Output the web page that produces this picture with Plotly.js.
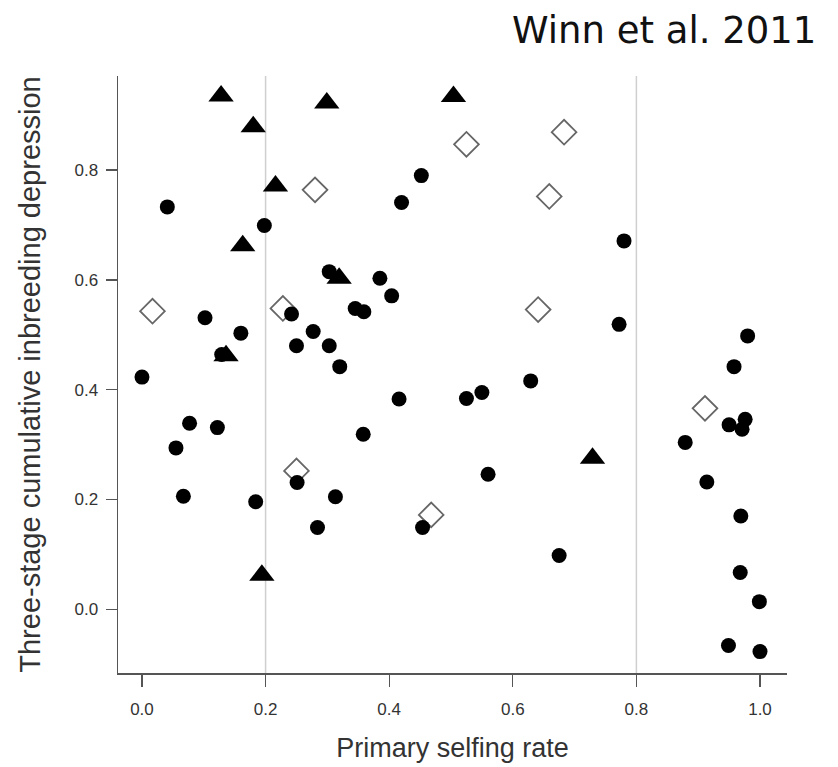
<!DOCTYPE html>
<html>
<head>
<meta charset="utf-8">
<script src="https://cdn.plot.ly/plotly-3.0.1.min.js"></script>
<style>html,body{margin:0;padding:0;background:#fff;}#chart{width:838px;height:767px;}</style>
</head>
<body>
<div id="chart"></div>
<script>
// Filled circles
const circleX = [0.041,0.198,0.452,0.420,0.780,0.303,0.385,0.404,0.345,0.359,0.102,0.160,0.129,0.000,0.077,0.122,0.055,0.067,0.184,0.242,0.277,0.250,0.303,0.320,0.251,0.313,0.284,0.416,0.525,0.550,0.629,0.358,0.560,0.454,0.772,0.980,0.958,0.950,0.976,0.971,0.879,0.914,0.969,0.675,0.968,0.999,0.949,1.000];
const circleY = [0.733,0.699,0.790,0.741,0.671,0.615,0.603,0.571,0.548,0.542,0.531,0.503,0.464,0.423,0.339,0.331,0.294,0.206,0.196,0.538,0.506,0.480,0.480,0.442,0.231,0.205,0.149,0.383,0.384,0.395,0.416,0.319,0.246,0.149,0.519,0.498,0.442,0.336,0.346,0.328,0.304,0.232,0.170,0.098,0.067,0.014,-0.066,-0.077];
// Filled triangles
const triangleX = [0.128,0.180,0.299,0.504,0.216,0.163,0.319,0.136,0.729,0.194];
const triangleY = [0.935,0.879,0.922,0.934,0.771,0.662,0.603,0.462,0.275,0.062];
// Open diamonds
const diamondX = [0.017,0.228,0.280,0.525,0.683,0.659,0.641,0.250,0.468,0.911];
const diamondY = [0.543,0.548,0.764,0.847,0.869,0.752,0.546,0.252,0.172,0.366];
// Reference lines and ticks
const refLines = [0.2, 0.8];
const xTicks = [0, 0.2, 0.4, 0.6, 0.8, 1.0];
const xTickText = ["0.0","0.2","0.4","0.6","0.8","1.0"];
const yTicks = [0, 0.2, 0.4, 0.6, 0.8];
const yTickText = ["0.0","0.2","0.4","0.6","0.8"];

const traces = [
  {x: diamondX, y: diamondY, type: 'scatter', mode: 'markers',
   marker: {symbol: 'diamond-open', size: 19, color: '#666', line: {color: '#666', width: 1.8}}},
  {x: circleX, y: circleY, type: 'scatter', mode: 'markers',
   marker: {symbol: 'circle', size: 15, color: '#000', line: {width: 0}}},
  {x: triangleX, y: triangleY, type: 'scatter', mode: 'markers',
   marker: {symbol: 'triangle-up', size: 22, color: '#000', line: {width: 0}}}
];

const fam = 'Liberation Sans, Arial, sans-serif';
const tickFont = {family: fam, size: 17, color: '#333'};
const layout = {
  width: 838, height: 767,
  margin: {l: 118, r: 51, t: 76, b: 94, pad: 0},
  paper_bgcolor: '#fff', plot_bgcolor: '#fff',
  showlegend: false,
  font: tickFont,
  xaxis: {
    range: [-0.0388, 1.0437], tickvals: xTicks, ticktext: xTickText,
    showgrid: false, zeroline: false, showline: true, linecolor: '#555', linewidth: 1.5,
    ticks: 'outside', ticklen: 12, tickwidth: 1.3, tickcolor: '#555', tickfont: tickFont,
    ticklabelstandoff: 8,
    title: {text: 'Primary selfing rate', font: {family: fam, size: 27, color: '#333'}, standoff: 20}
  },
  yaxis: {
    range: [-0.116, 0.9714], tickvals: yTicks, ticktext: yTickText,
    showgrid: false, zeroline: false, showline: true, linecolor: '#555', linewidth: 1.5,
    ticks: 'outside', ticklen: 11, tickwidth: 1.3, tickcolor: '#555', tickfont: tickFont,
    ticklabelstandoff: 4,
    title: {text: 'Three-stage cumulative inbreeding depression', font: {family: fam, size: 29, color: '#333'}, standoff: 25}
  },
  shapes: refLines.map(v => ({type: 'line', xref: 'x', yref: 'paper', x0: v, x1: v, y0: 0, y1: 1,
    line: {color: '#cfcfcf', width: 1.5}, layer: 'below'})),
  annotations: [{
    text: 'Winn et al. 2011', xref: 'paper', yref: 'paper', x: 1.0463, y: 1.077, xanchor: 'right', yanchor: 'middle',
    showarrow: false, font: {family: 'DejaVu Sans, Verdana, sans-serif', size: 37, color: '#111'}
  }]
};

Plotly.newPlot('chart', traces, layout, {displayModeBar: false, staticPlot: true});
</script>
</body>
</html>
